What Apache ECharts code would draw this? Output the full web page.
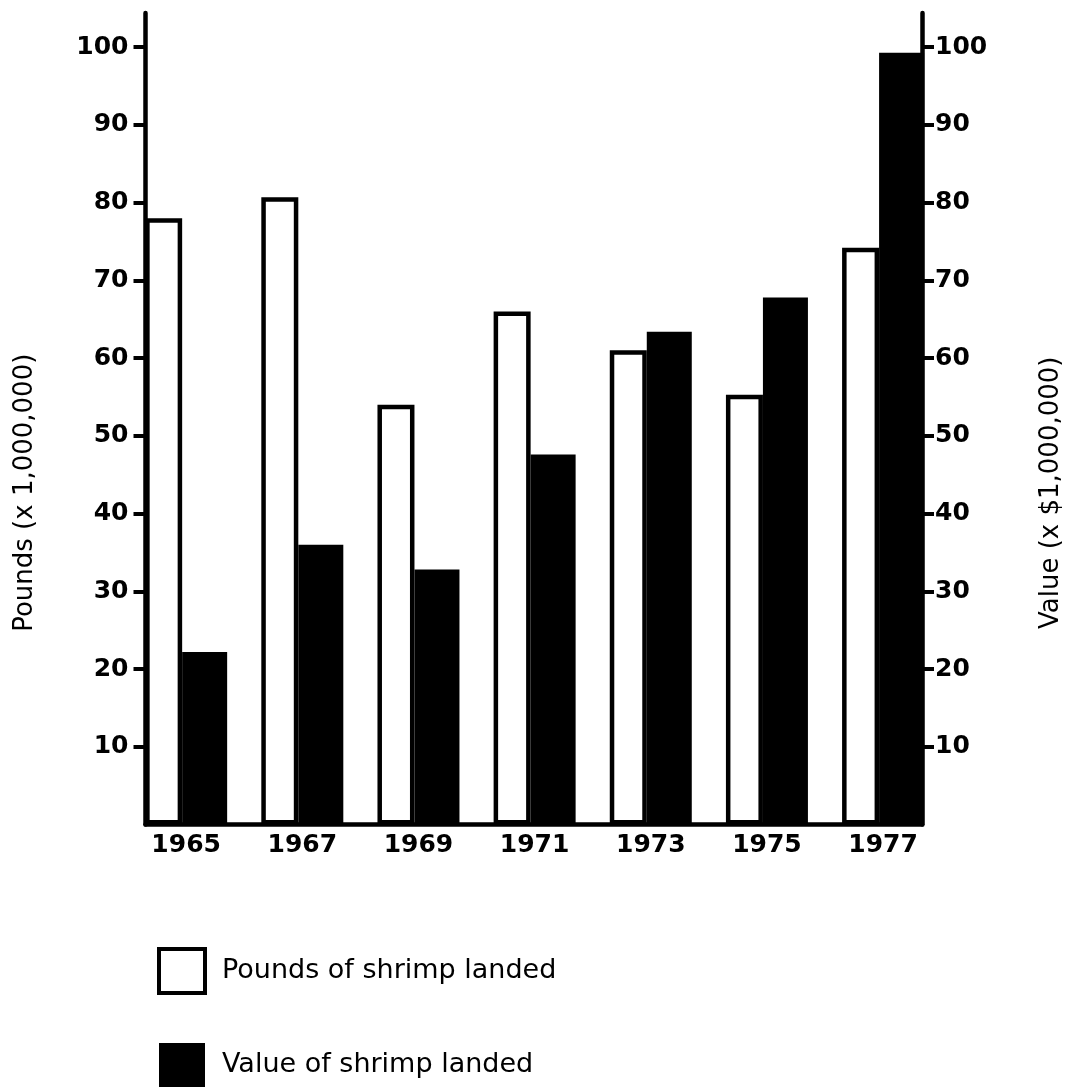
<!DOCTYPE html>
<html>
<head>
<meta charset="utf-8">
<script src="https://cdn.jsdelivr.net/npm/echarts@6/dist/echarts.min.js"></script>
<style>
html,body{margin:0;padding:0;background:#fff;}
#c{width:1068px;height:1092px;}
</style>
</head>
<body>
<div id="c"></div>
<script>
const years = [1965, 1967, 1969, 1971, 1973, 1975, 1977];
const poundsLanded = [78, 80.7, 54, 66, 61, 55.3, 74.2];
const valueLanded = [22.2, 36, 32.8, 47.6, 63.4, 67.8, 99.3];
const yTicks = [10, 20, 30, 40, 50, 60, 70, 80, 90, 100];
const seriesNames = ['Pounds of shrimp landed', 'Value of shrimp landed'];
const axisNames = ['Pounds (x 1,000,000)', 'Value (x $1,000,000)'];

const chart = echarts.init(document.getElementById('c'), null, {renderer: 'canvas'});
const tickFont = {fontFamily: 'DejaVu Sans', fontWeight: 'bold', fontSize: 25, color: '#000'};
const lineStyle = {color: '#000', width: 4.5};

function yAxisDef(pos, name) {
  return {
    type: 'value', position: pos, min: 0, max: 104.4,
    name: name, nameLocation: 'middle', nameRotate: 90, nameGap: pos === 'left' ? 107 : 116,
    nameTextStyle: {fontFamily: 'DejaVu Sans', fontSize: 26, color: '#000', padding: [0, 148, 0, 0]},
    axisLine: {show: true, onZero: false, lineStyle: lineStyle},
    axisTick: {show: true, length: 12, customValues: yTicks, lineStyle: {color: '#000', width: 4}},
    axisLabel: {customValues: yTicks, margin: pos === 'left' ? 17 : 13, ...tickFont},
    splitLine: {show: false}
  };
}

chart.setOption({
  animation: false,
  backgroundColor: '#fff',
  grid: {left: 145.5, right: 146, top: 13, bottom: 267.5, containLabel: false, outerBoundsMode: 'none'},
  xAxis: {
    type: 'value', min: 1964.30, max: 1977.67,
    axisLine: {show: true, onZero: false, lineStyle: lineStyle},
    axisTick: {show: false},
    axisLabel: {customValues: years, margin: 8, ...tickFont, formatter: v => String(v)},
    splitLine: {show: false}
  },
  yAxis: [yAxisDef('left', axisNames[0]), yAxisDef('right', axisNames[1])],
  legend: {
    orient: 'vertical', left: 157, top: 947, padding: 0,
    itemWidth: 46, itemHeight: 44, itemGap: 48,
    textStyle: {fontFamily: 'DejaVu Sans', fontSize: 27, color: '#000', padding: [0, 0, 0, 12]},
    data: [
      {name: seriesNames[0], icon: 'rect', itemStyle: {color: '#fff', borderColor: '#000', borderWidth: 4}},
      {name: seriesNames[1], icon: 'rect', itemStyle: {color: '#000', borderColor: '#000', borderWidth: 0}}
    ]
  },
  series: [
    {
      name: seriesNames[0], type: 'bar', yAxisIndex: 0,
      barWidth: 37, barGap: '0%',
      itemStyle: {color: '#fff', borderColor: '#000', borderWidth: 4.5},
      data: years.map((y, i) => [y, poundsLanded[i]])
    },
    {
      name: seriesNames[1], type: 'bar', yAxisIndex: 1,
      barWidth: 45, barGap: '0%',
      itemStyle: {color: '#000'},
      data: years.map((y, i) => [y, valueLanded[i]])
    }
  ]
});
</script>
</body>
</html>
